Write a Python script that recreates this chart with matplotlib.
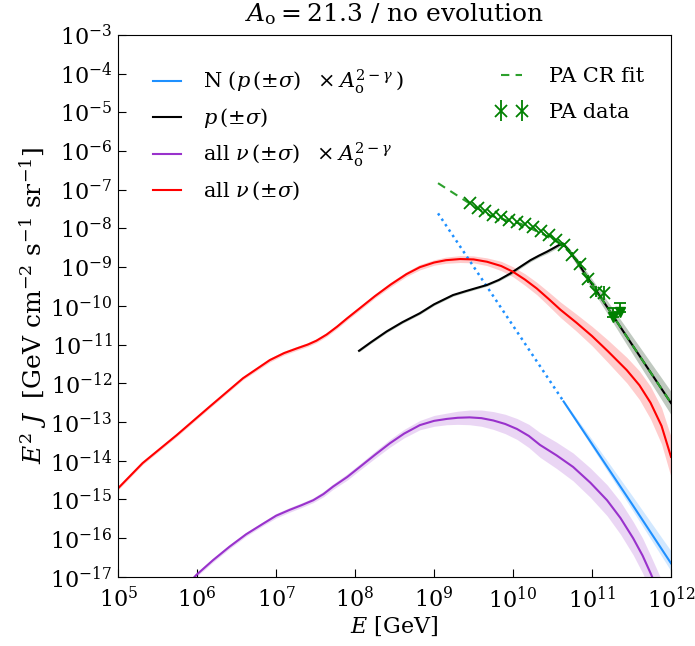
import numpy as np
import matplotlib
matplotlib.use("Agg")
import matplotlib.pyplot as plt
from matplotlib.ticker import LogLocator, NullLocator

plt.rcParams['font.family'] = ['DejaVu Serif']
plt.rcParams['mathtext.fontset'] = 'dejavuserif'

# ---- data (log10 values) ----
# all nu
nu_logE = [5.0, 5.31, 5.74, 6.16, 6.58, 6.92, 7.1, 7.26, 7.4, 7.51, 7.64, 7.77, 7.9, 8.06, 8.25,
           8.45, 8.65, 8.82, 9.0, 9.15, 9.33, 9.5, 9.67, 9.85, 10.0, 10.15, 10.3, 10.45, 10.6,
           10.8, 11.0, 11.2, 11.44, 11.6, 11.74, 11.88, 12.0]
nu_logY = [-14.71, -14.06, -13.34, -12.60, -11.87, -11.40, -11.22, -11.10, -11.00, -10.90,
           -10.74, -10.54, -10.32, -10.06, -9.75, -9.45, -9.18, -9.00, -8.88, -8.82, -8.79,
           -8.80, -8.86, -8.97, -9.12, -9.32, -9.55, -9.82, -10.10, -10.43, -10.78, -11.17,
           -11.66, -12.05, -12.50, -13.10, -13.90]
nu_err = [0.04, 0.04, 0.04, 0.04, 0.04, 0.05, 0.05, 0.05, 0.05, 0.05, 0.05, 0.05, 0.05, 0.05,
          0.05, 0.06, 0.06, 0.07, 0.07, 0.08, 0.09, 0.09, 0.10, 0.12, 0.13, 0.15, 0.16, 0.18,
          0.20, 0.22, 0.25, 0.29, 0.33, 0.37, 0.42, 0.47, 0.52]

# all nu x A^(2-gamma)
nuA_logE = [5.9, 5.99, 6.2, 6.41, 6.62, 6.84, 7.0, 7.17, 7.32, 7.47, 7.6, 7.72, 7.9, 8.06, 8.25,
            8.44, 8.62, 8.82, 9.0, 9.16, 9.3, 9.45, 9.6, 9.75, 9.9, 10.05, 10.2, 10.34, 10.55,
            10.76, 10.98, 11.19, 11.36, 11.52, 11.64, 11.74, 11.95]
nuA_logY = [-17.15, -16.95, -16.57, -16.22, -15.90, -15.62, -15.42, -15.27, -15.15, -15.02,
            -14.86, -14.67, -14.42, -14.16, -13.85, -13.55, -13.30, -13.08, -12.97, -12.92,
            -12.89, -12.88, -12.90, -12.96, -13.05, -13.18, -13.36, -13.59, -13.86, -14.16,
            -14.57, -15.02, -15.48, -16.00, -16.45, -16.90, -17.9]
nuA_err = [0.05, 0.05, 0.05, 0.05, 0.05, 0.05, 0.06, 0.06, 0.06, 0.06, 0.07, 0.07, 0.08, 0.08,
           0.09, 0.10, 0.11, 0.12, 0.14, 0.15, 0.17, 0.19, 0.21, 0.23, 0.25, 0.27, 0.30, 0.32,
           0.34, 0.36, 0.38, 0.40, 0.42, 0.43, 0.45, 0.46, 0.50]

# protons
p_logE = [8.05, 8.2, 8.4, 8.6, 8.82, 9.0, 9.24, 9.4, 9.5, 9.67, 9.82, 9.96, 10.1, 10.22, 10.33,
          10.43, 10.52, 10.58, 10.63, 10.7, 10.8, 11.0, 11.5, 12.0]
p_logY = [-11.16, -10.94, -10.66, -10.42, -10.19, -9.96, -9.72, -9.62, -9.56, -9.46, -9.33,
          -9.17, -8.98, -8.82, -8.70, -8.60, -8.50, -8.43, -8.39, -8.55, -8.83, -9.44, -10.98,
          -12.51]
p_err = [0.03, 0.03, 0.03, 0.03, 0.03, 0.03, 0.03, 0.03, 0.03, 0.03, 0.03, 0.04, 0.04, 0.04,
         0.04, 0.05, 0.05, 0.05, 0.05, 0.07, 0.09, 0.13, 0.22, 0.30]

# N (extrapolated dotted part + solid part)
Ndot_logE = [9.05, 10.64]
Ndot_logY = [-7.61, -12.47]
N_logE = [10.64, 11.0, 11.5, 12.0]
N_logY = [-12.47, -13.57, -15.10, -16.65]
N_err_up = [0.03, 0.12, 0.22, 0.32]
N_err_dn = [0.03, 0.08, 0.14, 0.20]

# PA CR fit
fit_logE = [9.05, 9.5, 9.7, 9.9, 10.1, 10.4, 10.6, 10.7, 10.8, 11.0, 11.5, 12.0]
fit_logY = [-6.83, -7.42, -7.66, -7.78, -7.88, -8.17, -8.40, -8.55, -8.83, -9.44, -10.98, -12.51]

# PA data
pa_logE = [9.45, 9.55, 9.65, 9.75, 9.85, 9.95, 10.05, 10.15, 10.25, 10.35, 10.45, 10.55,
           10.65, 10.75, 10.85, 10.95, 11.05, 11.15]
pa_logY = [-7.35, -7.46, -7.56, -7.64, -7.71, -7.77, -7.83, -7.89, -7.96, -8.06, -8.18, -8.30,
           -8.42, -8.68, -8.92, -9.30, -9.63, -9.67]
pa_err = [0.02, 0.02, 0.02, 0.02, 0.02, 0.02, 0.02, 0.02, 0.03, 0.03, 0.03, 0.04,
          0.05, 0.06, 0.08, 0.10, 0.14, 0.18]
ul_logE = [11.26, 11.36]
ul_logY = [-10.29, -10.15]
ul_top = [-10.05, -9.93]


def P(a):
    return 10.0 ** np.asarray(a)


fig = plt.figure(figsize=(6.95, 6.46), dpi=100)
ax = fig.add_axes([0.170, 0.107, 0.7955, 0.839])
ax.set_xscale('log')
ax.set_yscale('log')

c_blue = '#1e90ff'
c_purple = '#9932cc'
c_red = '#ff0000'

# bands
ny, ne = np.asarray(nu_logY), np.asarray(nu_err)
ax.fill_between(P(nu_logE), P(ny - ne), P(ny + ne), color=c_red, alpha=0.2, lw=0)
ay, ae = np.asarray(nuA_logY), np.asarray(nuA_err)
ax.fill_between(P(nuA_logE), P(ay - ae), P(ay + ae), color=c_purple, alpha=0.2, lw=0)
py_, pe = np.asarray(p_logY), np.asarray(p_err)
ax.fill_between(P(p_logE), P(py_ - pe), P(py_ + pe), color='#2f4f2f', alpha=0.3, lw=0)
Ny = np.asarray(N_logY)
ax.fill_between(P(N_logE), P(Ny - np.asarray(N_err_dn)), P(Ny + np.asarray(N_err_up)),
                color=c_blue, alpha=0.2, lw=0)

# lines
hN, = ax.plot(P(N_logE), P(N_logY), color=c_blue, lw=1.5)
ax.plot(P(Ndot_logE), P(Ndot_logY), color=c_blue, lw=1.8, ls=(0, (1, 1.6)))
hp, = ax.plot(P(p_logE), P(p_logY), color='k', lw=1.5)
hnuA, = ax.plot(P(nuA_logE), P(nuA_logY), color=c_purple, lw=1.5)
hnu, = ax.plot(P(nu_logE), P(nu_logY), color=c_red, lw=1.5)

hfit, = ax.plot(P(fit_logE), P(fit_logY), color='#2ca02c', lw=1.5, ls=(0, (4, 3)), zorder=4)

pe_arr = np.asarray(pa_err)
pay = np.asarray(pa_logY)
yerr = [P(pay) - P(pay - pe_arr), P(pay + pe_arr) - P(pay)]
hdata = ax.errorbar(P(pa_logE), P(pa_logY), yerr=yerr, fmt='x', color='green', ms=8, mew=1.3,
                    elinewidth=1.3, capsize=0, zorder=5)
uly = np.asarray(ul_logY)
ax.errorbar(P(ul_logE), P(uly), yerr=[np.zeros(2), P(ul_top) - P(uly)], fmt='v', color='green',
            ms=7, elinewidth=1.3, capsize=4, capthick=1.3, zorder=5)

ax.set_xlim(1e5, 1e12)
ax.set_ylim(1e-17, 1e-3)

ax.xaxis.set_major_locator(LogLocator(base=10, numticks=20))
ax.yaxis.set_major_locator(LogLocator(base=10, numticks=30))
ax.xaxis.set_minor_locator(NullLocator())
ax.yaxis.set_minor_locator(NullLocator())
ax.tick_params(which='major', direction='in', length=6, width=0.8, labelsize=16)
ax.tick_params(axis='x', pad=7)
ax.tick_params(axis='y', pad=4)

ax.set_xlabel(r'$E$ [GeV]', fontsize=16, labelpad=1)
ax.set_ylabel(r'$E^2\ J\ \ [\mathrm{GeV\ cm^{-2}\ s^{-1}\ sr^{-1}}]$', fontsize=18, labelpad=1)
ax.set_title(r'$A_{\rm o} = 21.3$ / no evolution', fontsize=18, pad=10)

leg1 = ax.legend([hN, hp, hnuA, hnu],
                 [r'N $(p\,(\pm\sigma)\ \ \times A_{\rm o}^{2-\gamma}\,)$',
                  r'$p\,(\pm\sigma)$',
                  r'all $\nu\,(\pm\sigma)\ \ \times A_{\rm o}^{2-\gamma}$',
                  r'all $\nu\,(\pm\sigma)$'],
                 loc='upper left', bbox_to_anchor=(0.03, 0.975), frameon=False, fontsize=15,
                 handlelength=1.3, handletextpad=1.1, labelspacing=0.5)
ax.add_artist(leg1)
ax.legend([hfit, hdata], ['PA CR fit', 'PA data'], loc='upper right',
          bbox_to_anchor=(0.985, 0.975), frameon=False, fontsize=15, numpoints=2,
          handlelength=1.6, handletextpad=1.0, labelspacing=0.8)

fig.savefig('out.png', dpi=100)
